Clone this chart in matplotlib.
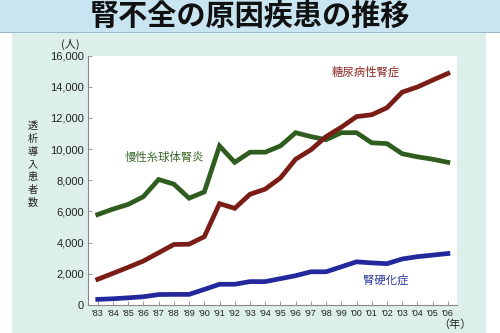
import matplotlib
matplotlib.use("Agg")
import matplotlib.pyplot as plt
from matplotlib.patches import Rectangle

plt.rcParams['font.family'] = ['Noto Sans CJK JP', 'DejaVu Sans']

years = ["'83", "'84", "'85", "'86", "'87", "'88", "'89", "'90", "'91", "'92", "'93", "'94",
         "'95", "'96", "'97", "'98", "'99", "'00", "'01", "'02", "'03", "'04", "'05", "'06"]
glomerulo = [5800, 6150, 6450, 6950, 8050, 7750, 6850, 7250, 10200, 9150, 9800, 9800,
             10200, 11050, 10800, 10600, 11050, 11050, 10400, 10350, 9700, 9500, 9350, 9150]
diabetic = [1650, 2030, 2420, 2820, 3350, 3880, 3900, 4380, 6500, 6200, 7100, 7430,
            8150, 9350, 9950, 10800, 11400, 12080, 12200, 12650, 13650, 13980, 14420, 14850]
nephrosclerosis = [360, 400, 460, 530, 670, 680, 680, 1000, 1330, 1330, 1500, 1500,
                   1690, 1880, 2130, 2130, 2450, 2770, 2700, 2650, 2950, 3100, 3200, 3300]
yticks = [0, 2000, 4000, 6000, 8000, 10000, 12000, 14000, 16000]

W, H = 500, 333
fig = plt.figure(figsize=(5, 3.33), dpi=100)
fig.patch.set_facecolor('white')

# backgrounds
fig.patches.append(Rectangle((12 / W, 0), (486 - 12) / W, (H - 32) / H, transform=fig.transFigure,
                             facecolor='#dcefea', edgecolor='none', zorder=-10))
fig.patches.append(Rectangle((0, (H - 32) / H), 1, 32 / H, transform=fig.transFigure,
                             facecolor='#c8e5f1', edgecolor='none', zorder=-9))
fig.patches.append(Rectangle((0, (H - 33) / H), 1, 1.5 / H, transform=fig.transFigure,
                             facecolor='#9bbac8', edgecolor='none', zorder=-8))

fig.text(0.5, (H - 16) / H, '腎不全の原因疾患の推移', ha='center', va='center',
         fontsize=21, fontweight='bold', color='#111111')

ax = fig.add_axes([88 / W, (H - 305) / H, (457 - 88) / W, (305 - 55.5) / H])
ax.set_facecolor('white')
x = list(range(len(years)))
ax.plot(x, glomerulo, color='#2f5d1f', lw=3.4, solid_joinstyle='miter', zorder=3)
ax.plot(x, diabetic, color='#7b1d17', lw=3.4, solid_joinstyle='miter', zorder=3)
ax.plot(x, nephrosclerosis, color='#23299d', lw=3.4, solid_joinstyle='miter', zorder=3)

ax.set_xlim(-0.64, 23.6)
ax.set_ylim(0, 16000)
ax.set_yticks(yticks)
ax.set_yticklabels([f'{v:,}' for v in yticks], fontsize=8, family='Liberation Sans', color='#222222')
ax.set_xticks(x)
ax.set_xticklabels(years, fontsize=6.5, family='Liberation Sans', color='#222222')
ax.tick_params(axis='both', direction='in', length=3, width=0.6, color='#888888', pad=3)
for s in ['top', 'right']:
    ax.spines[s].set_visible(False)
for s in ['left', 'bottom']:
    ax.spines[s].set_color('#888888')
    ax.spines[s].set_linewidth(0.8)

ax.text(4.4, 9450, '慢性糸球体腎炎', color='#3b6a2a', fontsize=8.2, ha='center', va='center')
ax.text(17.6, 14950, '糖尿病性腎症', color='#8a2a24', fontsize=8.2, ha='center', va='center')
ax.text(18.9, 1600, '腎硬化症', color='#2c3aa0', fontsize=8.2, ha='center', va='center')

fig.text(70 / W, (H - 44) / H, '(人)', ha='center', va='center', fontsize=8, color='#222222')
fig.text(455 / W, (H - 325) / H, '（年）', ha='center', va='center', fontsize=8, color='#222222')
label = '透析導入患者数'
for i, ch in enumerate(label):
    fig.text(33 / W, (H - (126 + i * 12.8)) / H, ch, ha='center', va='center',
             fontsize=7.3, color='#222222')

fig.savefig('out.png', dpi=100, facecolor=fig.get_facecolor())
